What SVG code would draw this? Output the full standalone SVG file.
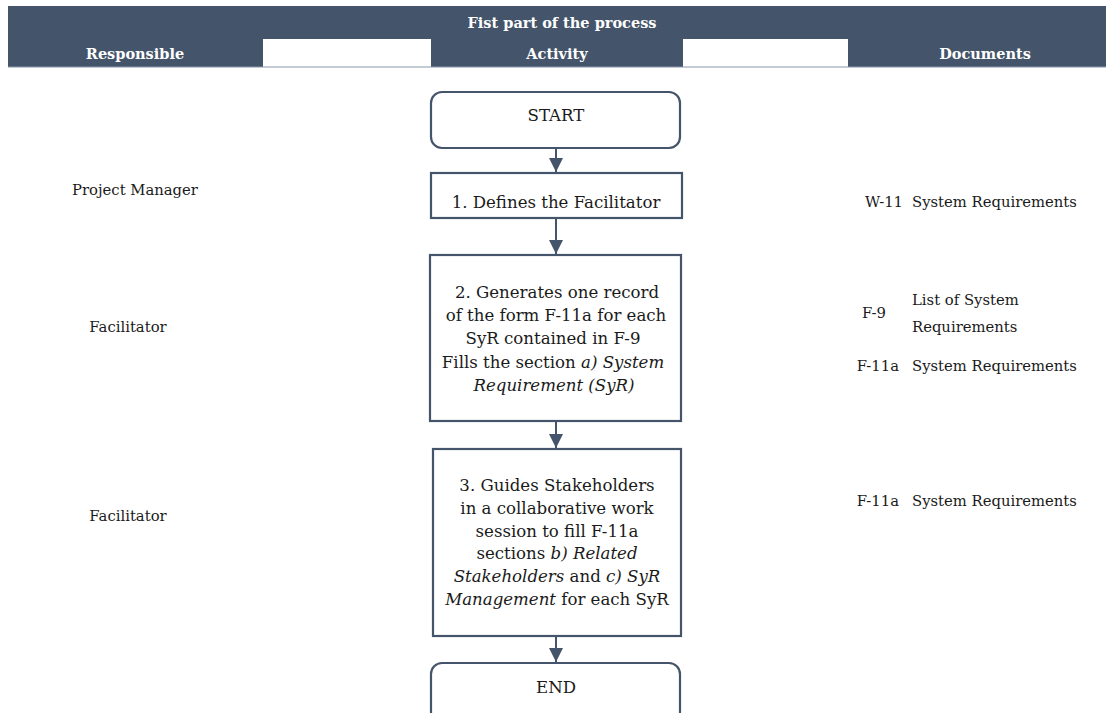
<svg xmlns="http://www.w3.org/2000/svg" width="1106" height="713" viewBox="0 0 1106 713">
<defs>
<style>
.hdr{fill:#44546a}
.ht{font-family:"DejaVu Serif","Liberation Serif",serif;font-weight:bold;font-size:14.5px;fill:#ffffff;text-anchor:middle}
.box{fill:#ffffff;stroke:#44546a;stroke-width:2.2}
.t{font-family:"DejaVu Serif","Liberation Serif",serif;font-size:16.6px;fill:#1a1a1a}
.s{font-family:"DejaVu Serif","Liberation Serif",serif;font-size:14.8px;fill:#1a1a1a}
.c{text-anchor:middle}
.i{font-style:italic}
.conn{stroke:#44546a;stroke-width:2;fill:none}
</style>
<marker id="ah" viewBox="0 0 14 14" refX="14" refY="7" markerWidth="14" markerHeight="14" markerUnits="userSpaceOnUse" orient="auto">
<path d="M0,0 L14,7 L0,14 z" fill="#44546a"/>
</marker>
</defs>
<rect width="1106" height="713" fill="#ffffff"/>
<g id="header">
<rect class="hdr" x="8" y="6" width="1098" height="61"/>
<rect x="263" y="39" width="168" height="28" fill="#ffffff"/>
<rect x="683" y="39" width="165" height="28" fill="#ffffff"/>
<line x1="8" y1="67" x2="1106" y2="67" stroke="#8a96a8" stroke-width="1"/>
<text class="ht" x="562" y="28">Fist part of the process</text>
<text class="ht" x="135" y="59">Responsible</text>
<text class="ht" x="557" y="59">Activity</text>
<text class="ht" x="985" y="59">Documents</text>
</g>
<g id="connectors">
<line class="conn" x1="556" y1="148" x2="556" y2="172" marker-end="url(#ah)"/>
<line class="conn" x1="556" y1="218" x2="556" y2="254" marker-end="url(#ah)"/>
<line class="conn" x1="556" y1="421" x2="556" y2="448" marker-end="url(#ah)"/>
<line class="conn" x1="556" y1="636" x2="556" y2="662" marker-end="url(#ah)"/>
</g>
<g id="start">
<rect class="box" x="431" y="92" width="249" height="56" rx="11"/>
<text class="t c" x="556" y="121">START</text>
</g>
<g id="step1">
<rect class="box" x="431" y="173" width="251" height="45"/>
<text class="t c" x="556" y="208">1. Defines the Facilitator</text>
</g>
<g id="step2">
<rect class="box" x="430" y="255" width="251" height="166"/>
<text class="t c" x="557" y="298">2. Generates one record</text>
<text class="t c" x="556" y="321">of the form F-11a for each</text>
<text class="t c" x="553" y="344">SyR contained in  F-9</text>
<text class="t c" x="553" y="368">Fills the section <tspan class="i">a) System</tspan></text>
<text class="t c i" x="554" y="391">Requirement (SyR)</text>
</g>
<g id="step3">
<rect class="box" x="433" y="449" width="248" height="187"/>
<text class="t c" x="557" y="491">3. Guides Stakeholders</text>
<text class="t c" x="557" y="514">in a collaborative work</text>
<text class="t c" x="557" y="537">session to fill F-11a</text>
<text class="t c" x="557" y="559">sections <tspan class="i">b) Related</tspan></text>
<text class="t c" x="557" y="582"><tspan class="i">Stakeholders</tspan> and <tspan class="i">c) SyR</tspan></text>
<text class="t c" x="557" y="605"><tspan class="i">Management</tspan> for each SyR</text>
</g>
<g id="end">
<rect class="box" x="431" y="663" width="249" height="60" rx="11"/>
<text class="t c" x="556" y="693">END</text>
</g>
<g id="responsible">
<text class="s c" x="135" y="195">Project Manager</text>
<text class="s c" x="128" y="332">Facilitator</text>
<text class="s c" x="128" y="521">Facilitator</text>
</g>
<g id="documents">
<text class="s" x="903" y="207" text-anchor="end">W-11</text>
<text class="s" x="912" y="207">System Requirements</text>
<text class="s" x="886" y="318" text-anchor="end">F-9</text>
<text class="s" x="912" y="305">List of System</text>
<text class="s" x="912" y="332">Requirements</text>
<text class="s" x="899" y="371" text-anchor="end">F-11a</text>
<text class="s" x="912" y="371">System Requirements</text>
<text class="s" x="899" y="506" text-anchor="end">F-11a</text>
<text class="s" x="912" y="506">System Requirements</text>
</g>
</svg>
